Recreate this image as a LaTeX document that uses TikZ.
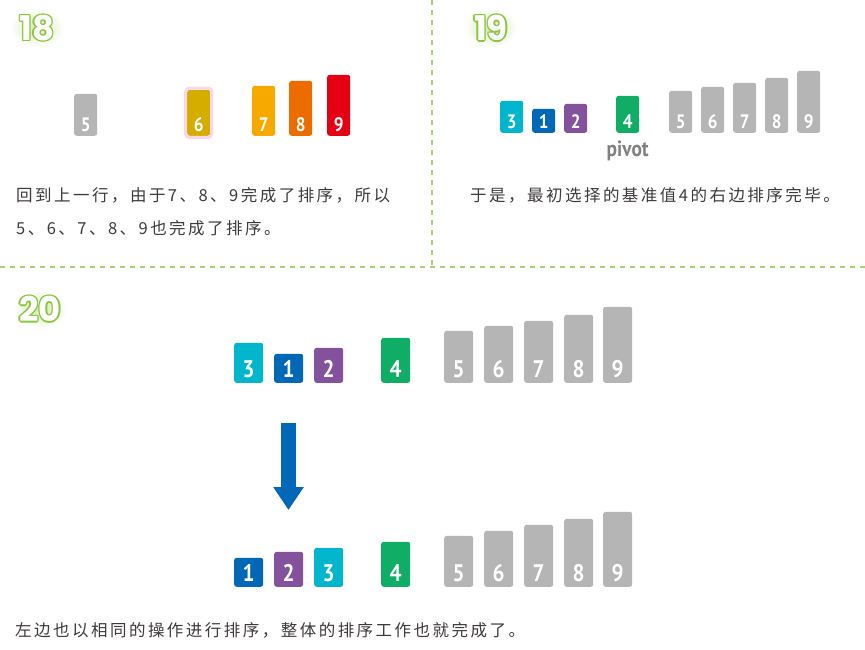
\documentclass[tikz,border=0pt]{standalone}
\usepackage{fontspec}
\usetikzlibrary{arrows.meta}

\newfontfamily\cjk[LetterSpace=15]{Noto Sans CJK SC}
\newfontfamily\digitfont[FakeStretch=0.88]{PT Sans}
\newfontfamily\roundfont{Poppins}

\definecolor{cardgray}{HTML}{B5B5B5}
\definecolor{cardcyan}{HTML}{00B5CC}
\definecolor{cardblue}{HTML}{0068B6}
\definecolor{cardpurple}{HTML}{84519C}
\definecolor{cardgreen}{HTML}{10AD67}
\definecolor{cardgold}{HTML}{D4AD00}
\definecolor{cardamber}{HTML}{F6AA00}
\definecolor{cardorange}{HTML}{ED6C00}
\definecolor{cardred}{HTML}{E60014}
\definecolor{glowpink}{HTML}{F4B6D6}
\definecolor{linegreen}{HTML}{A9D373}
\definecolor{numgreen}{HTML}{8CC63F}
\definecolor{textgray}{HTML}{3E3A39}
\definecolor{pivotgray}{HTML}{808080}

\tikzset{
  card/.style={anchor=south west, inner sep=0pt, rounded corners=2.5pt},
  digit/.style={anchor=base, text=white, inner sep=0pt,
    font=\digitfont\bfseries\fontsize{19.5}{19.5}\selectfont},
  bigdigit/.style={digit, font=\digitfont\bfseries\fontsize{24}{24}\selectfont},
  txt/.style={anchor=west, inner sep=0pt, text=textgray,
    font=\cjk\fontsize{16.5}{18}\selectfont},
  divider/.style={linegreen, line width=1.6pt, dash pattern=on 5pt off 5pt},
  numfont/.style={font=\roundfont\bfseries\fontsize{34}{34}\selectfont, inner sep=0pt}
}

\begin{document}
\begin{tikzpicture}[x=1pt,y=-1pt]
\useasboundingbox (0,0) rectangle (865,650);

% dividers
\draw[divider] (432,0) -- (432,266);
\draw[divider] (0,267) -- (865,267);

% step numbers with glow
\foreach \x/\y/\t in {37/28/18, 491/28/19, 40/309/20} {
  \shade[inner color=numgreen!40, outer color=white] (\x,\y) ellipse (27pt and 19pt);
  \foreach \a in {0,45,...,315}
    \node[numfont, text=numgreen] (o\t-\a) at ([shift={(\a:1.4)}]\x,\y) {\t};
  \node[numfont, text=white] (n\t) at (\x,\y) {\t};
}

% 18
\foreach \x/\h/\n/\c in {74/42/5/cardgray, 187/46/6/cardgold, 252/50/7/cardamber,
                         289/55/8/cardorange, 327/61/9/cardred} {
  \node[card, fill=\c, minimum width=23pt, minimum height=\h*1pt] (a\n) at (\x,136) {};
  \node[digit] (da\n) at ([yshift=4pt]a\n.south) {\n};
}
\draw[glowpink!55, line width=3pt, rounded corners=4pt]
  ([shift={(-1.5,1.5)}]a6.south west) rectangle ([shift={(1.5,-1.5)}]a6.north east);
\node[txt] (t18a) at (16,195) {回到上一行，由于7、8、9完成了排序，所以};
\node[txt] (t18b) at (16,228) {5、6、7、8、9也完成了排序。};

% 19
\foreach \x/\h/\n/\c in {500/32/3/cardcyan, 532/24/1/cardblue, 564/29/2/cardpurple,
                         616/37/4/cardgreen, 669/42/5/cardgray, 701/46/6/cardgray,
                         733/50/7/cardgray, 765/55/8/cardgray, 797/62/9/cardgray} {
  \node[card, fill=\c, minimum width=23pt, minimum height=\h*1pt] (b\n) at (\x,133) {};
  \node[digit] (db\n) at ([yshift=4pt]b\n.south) {\n};
}
\node[text=pivotgray, font=\digitfont\bfseries\fontsize{22}{22}\selectfont, inner sep=0pt]
  (pv) at ([yshift=-18pt]b4.south) {pivot};
\node[txt] (t19) at (470,195) {于是，最初选择的基准值4的右边排序完毕。};

% 20 before
\foreach \x/\h/\n/\c in {234/40/3/cardcyan, 274/29/1/cardblue, 314/35/2/cardpurple,
                         381/45/4/cardgreen, 444/52/5/cardgray, 484/57/6/cardgray,
                         524/62/7/cardgray, 564/68/8/cardgray, 603/76/9/cardgray} {
  \node[card, fill=\c, minimum width=29pt, minimum height=\h*1pt] (c\n) at (\x,383) {};
  \node[bigdigit] (dc\n) at ([yshift=6pt]c\n.south) {\n};
}

% 20 after
\foreach \x/\h/\n/\c in {234/29/1/cardblue, 274/35/2/cardpurple, 314/39/3/cardcyan,
                         381/45/4/cardgreen, 444/51/5/cardgray, 484/56/6/cardgray,
                         524/62/7/cardgray, 564/68/8/cardgray, 603/75/9/cardgray} {
  \node[card, fill=\c, minimum width=29pt, minimum height=\h*1pt] (e\n) at (\x,587) {};
  \node[bigdigit] (de\n) at ([yshift=6pt]e\n.south) {\n};
}

\coordinate (arTop) at (288.5,423);
\coordinate (arBot) at (288.5,510);
\draw[cardblue, line width=15pt, -{Triangle[width=29pt,length=23pt]}] (arTop) -- (arBot);

\node[txt] (t20) at (15,630) {左边也以相同的操作进行排序，整体的排序工作也就完成了。};

\end{tikzpicture}
\end{document}
